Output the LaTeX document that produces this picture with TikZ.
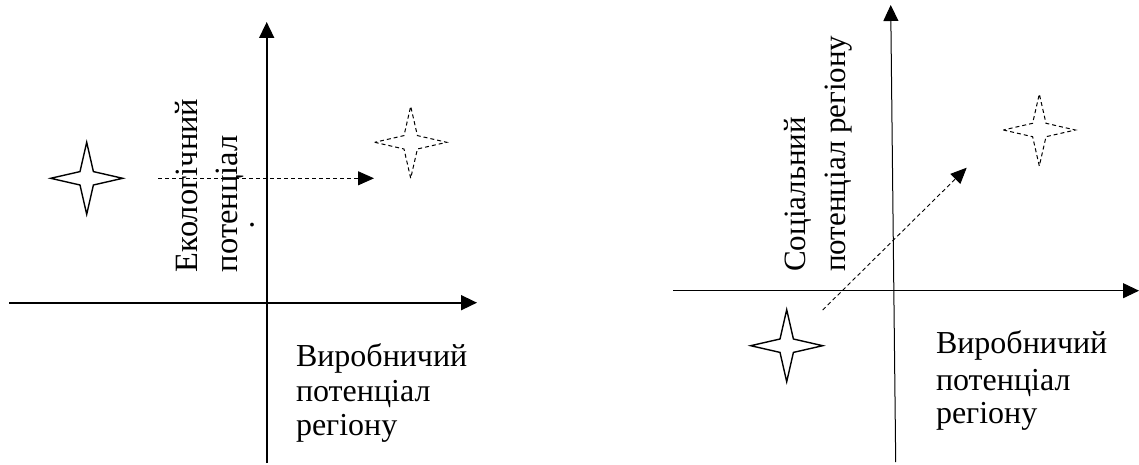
\documentclass[tikz,border=0pt]{standalone}
\usepackage{fontspec}
\setmainfont{Liberation Serif}
\usetikzlibrary{arrows.meta}
\tikzset{
  axis/.style={line width=1.6pt,-{Triangle[length=16pt,width=15pt]}},
  thinaxis/.style={line width=1pt,-{Triangle[length=16pt,width=15pt]}},
  move/.style={line width=0.9pt,dash pattern=on 4pt off 3pt,-{Triangle[length=16pt,width=14pt]}},
  lbl/.style={inner sep=0pt,outer sep=0pt,font=\fontsize{32}{36}\selectfont},
  vlbl/.style={lbl,rotate=90,anchor=base west,font=\fontsize{32.5}{36}\selectfont},
  rvlbl/.style={vlbl,font=\fontsize{31}{36}\selectfont},
  starline/.style={line width=1.4pt,line join=miter},
  dstarline/.style={line width=1pt,dash pattern=on 4pt off 3pt}
}
\newcommand{\starpath}[2]{%
  (#1)++(-36,0) -- ++(29.3,6.7) -- ++(6.7,29.3) -- ++(6.7,-29.3) -- ++(29.3,-6.7)
  -- ++(-29.3,-6.7) -- ++(-6.7,-29.3) -- ++(-6.7,29.3) -- cycle}
\begin{document}
\begin{tikzpicture}[x=1pt,y=-1pt]
\useasboundingbox (0,0) rectangle (1139,465);
% ---------- left diagram ----------
\coordinate (LxS) at (9,302.7);
\coordinate (LxE) at (477,302.7);
\coordinate (LyS) at (266.7,463);
\coordinate (LyE) at (266.7,22);
\draw[axis] (LxS) -- (LxE);
\draw[axis] (LyS) -- (LyE);
\coordinate (Ls1) at (86.7,178.3);
\coordinate (Ls2) at (410.7,142.3);
\draw[starline] \starpath{Ls1}{};
\draw[dstarline] \starpath{Ls2}{};
\coordinate (LaS) at (158,178.3);
\coordinate (LaE) at (374,178.3);
\draw[move] (LaS) -- (LaE);
\node[vlbl] (Lv1) at (197,272) {Екологічний};
\node[vlbl] (Lv2) at (237,272) {потенціал};
\node[lbl,anchor=base] (Ldot) at (252,226) {.};
\node[lbl,anchor=base west] (Lh1) at (296,366.7) {Виробничий};
\node[lbl,anchor=base west] (Lh2) at (296,401.5) {потенціал};
\node[lbl,anchor=base west] (Lh3) at (296,435.5) {регіону};
% ---------- right diagram ----------
\coordinate (RxS) at (673.3,290.7);
\coordinate (RxE) at (1139,290.7);
\coordinate (RyS) at (895.7,462);
\coordinate (RyE) at (890.7,5);
\draw[thinaxis] (RxS) -- (RxE);
\draw[thinaxis] (RyS) -- (RyE);
\coordinate (Rs1) at (786.7,345.7);
\coordinate (Rs2) at (1039.3,130);
\draw[starline] \starpath{Rs1}{};
\draw[dstarline] \starpath{Rs2}{};
\coordinate (RaS) at (822.7,310);
\coordinate (RaE) at (966.7,167.7);
\draw[move] (RaS) -- (RaE);
\node[rvlbl] (Rv1) at (805,271.7) {Соціальний};
\node[rvlbl] (Rv2) at (845,271.7) {потенціал регіону};
\node[lbl,anchor=base west] (Rh1) at (936,353.3) {Виробничий};
\node[lbl,anchor=base west] (Rh2) at (936,390.3) {потенціал};
\node[lbl,anchor=base west] (Rh3) at (936,423.3) {регіону};
\end{tikzpicture}
\end{document}
